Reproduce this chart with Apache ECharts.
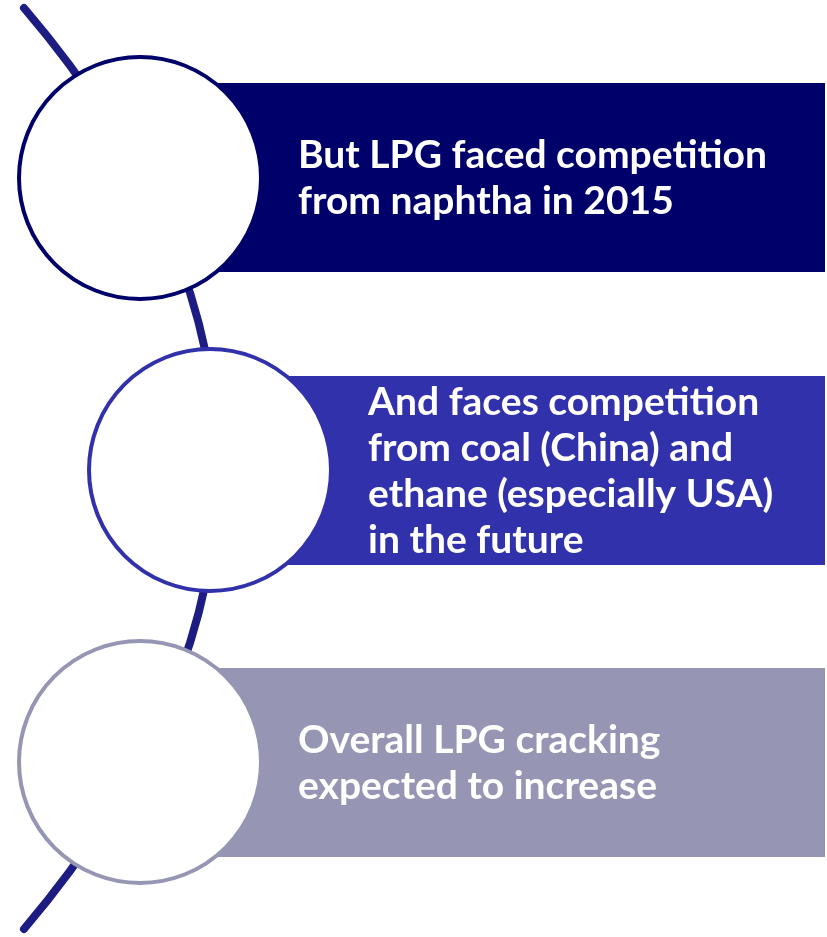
<!DOCTYPE html>
<html>
<head>
<meta charset="utf-8">
<script src="https://cdn.jsdelivr.net/npm/echarts@6/dist/echarts.min.js"></script>
<style>
  html, body { margin: 0; padding: 0; background: #ffffff; }
  #chart { width: 827px; height: 937px; }
</style>
</head>
<body>
<div id="chart"></div>
<script>
// Three steps of the LPG cracking story, top to bottom
const stepTexts = [
  'But LPG faced competition\nfrom naphtha in 2015',
  'And faces competition\nfrom coal (China) and\nethane (especially USA)\nin the future',
  'Overall LPG cracking\nexpected to increase'
];
const stepColors = ['#00006b', '#3131ab', '#9696b4'];

// Layout of each step: circle centre and text panel
const layout = [
  { cx: 140, cy: 178, textX: 298, top: 83 },
  { cx: 210, cy: 470, textX: 368, top: 376 },
  { cx: 140, cy: 762, textX: 298, top: 668 }
];
const R = 121, PANEL_H = 189, PANEL_RIGHT = 825;

const chart = echarts.init(document.getElementById('chart'), null, { renderer: 'canvas' });

const elements = [];

// Connecting arc running behind the circles
elements.push({
  type: 'bezierCurve',
  z: 1,
  shape: { x1: 24, y1: 8, cpx1: 282, cpy1: 310, cpx2: 282, cpy2: 625, x2: 24, y2: 929 },
  style: { stroke: '#1c1c82', lineWidth: 8, lineCap: 'round', fill: null }
});

stepTexts.forEach((txt, i) => {
  const l = layout[i];
  // coloured text panel, its left end hidden under the circle
  elements.push({
    type: 'rect',
    z: 2,
    shape: { x: l.cx, y: l.top, width: PANEL_RIGHT - l.cx, height: PANEL_H },
    style: { fill: stepColors[i] }
  });
  // white circle with coloured ring
  elements.push({
    type: 'circle',
    z: 3,
    shape: { cx: l.cx, cy: l.cy, r: R },
    style: { fill: '#ffffff', stroke: stepColors[i], lineWidth: 4 }
  });
  elements.push({
    type: 'text',
    z: 4,
    x: l.textX,
    y: l.top + PANEL_H / 2 + 1,
    style: {
      text: txt,
      fill: '#ffffff',
      font: 'bold 39px Lato',
      lineHeight: 46,
      align: 'left',
      verticalAlign: 'middle'
    }
  });
});

chart.setOption({
  backgroundColor: '#ffffff',
  animation: false,
  graphic: { elements: elements }
});
</script>
</body>
</html>
